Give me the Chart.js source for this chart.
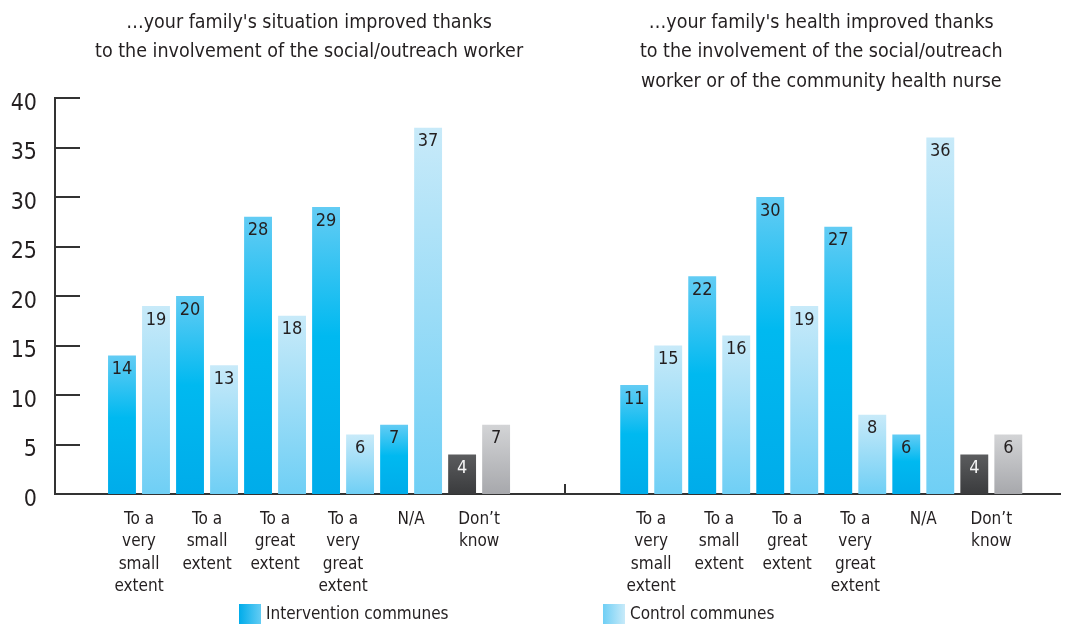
<!DOCTYPE html>
<html>
<head>
<meta charset="utf-8">
<script src="https://cdn.jsdelivr.net/npm/chart.js@4"></script>
<style>
  html, body { margin: 0; padding: 0; background: #fff; }
  #wrap { width: 1066px; height: 624px; }
</style>
</head>
<body>
<div id="wrap"><canvas id="surveyChart"></canvas></div>
<script>
// answer categories (same for both questions)
const tickLabels = [
  ['To a', 'very', 'small', 'extent'],
  ['To a', 'small', 'extent'],
  ['To a', 'great', 'extent'],
  ['To a', 'very', 'great', 'extent'],
  ['N/A'],
  ['Don\u2019t', 'know']
];

const situationTitle = [
  '\u2026your family\'s situation improved thanks',
  'to the involvement of the social/outreach worker'
];
const healthTitle = [
  '\u2026your family\'s health improved thanks',
  'to the involvement of the social/outreach',
  'worker or of the community health nurse'
];

const seriesNames = ['Intervention communes', 'Control communes'];

const situationIntervention = [14, 20, 28, 29, 7, 4];
const situationControl = [19, 13, 18, 6, 37, 7];
const healthIntervention = [11, 22, 30, 27, 6, 4];
const healthControl = [15, 16, 19, 8, 36, 6];

const yTicks = [0, 5, 10, 15, 20, 25, 30, 35, 40];

const FONT = '"Liberation Sans Narrow", "DejaVu Sans Condensed", sans-serif';
const INK = '#231f20';
const AXIS = '#333333';
const PANEL_SHIFT = 7.53;   // where the second question starts, in category widths
const N = tickLabels.length;

const blueStops = [[0, '#63ccf4'], [0.45, '#00b9f0'], [1, '#00acea']];
const paleStops = [[0, '#c8eaf9'], [1, '#6fcff5']];
const darkStops = [[0, '#5b5c5e'], [1, '#3a3b3d']];
const greyStops = [[0, '#d3d4d6'], [1, '#a7a8ac']];

function toPoints(first, second) {
  return first.map((v, i) => ({ x: i, y: v }))
    .concat(second.map((v, i) => ({ x: i + PANEL_SHIFT, y: v })));
}

const tickPositions = tickLabels.map((_, i) => i)
  .concat(tickLabels.map((_, i) => i + PANEL_SHIFT));

function labelFor(value) {
  const idx = tickPositions.findIndex(p => Math.abs(p - value) < 1e-6);
  return idx < 0 ? '' : tickLabels[idx % N];
}

function barFill(series) {
  return (ctx) => {
    const solid = series === 0 ? '#00b9f0' : '#9fdcf6';
    if (ctx.type !== 'data' || !ctx.raw) return solid;
    const y = ctx.chart.scales.y;
    if (!y) return solid;
    const top = y.getPixelForValue(ctx.raw.y);
    const base = y.getPixelForValue(0);
    if (!Number.isFinite(top) || !Number.isFinite(base) || top === base) return solid;
    const dontKnow = ctx.dataIndex % N === N - 1;
    const stops = dontKnow ? (series === 0 ? darkStops : greyStops)
                           : (series === 0 ? blueStops : paleStops);
    const g = ctx.chart.ctx.createLinearGradient(0, top, 0, base);
    stops.forEach(([o, c]) => g.addColorStop(o, c));
    return g;
  };
}

// numbers printed just inside the top of each bar
const valueLabels = {
  id: 'valueLabels',
  afterDatasetsDraw(chart) {
    const ctx = chart.ctx;
    ctx.save();
    ctx.font = '18px ' + FONT;
    ctx.textAlign = 'center';
    ctx.textBaseline = 'middle';
    chart.data.datasets.forEach((ds, di) => {
      chart.getDatasetMeta(di).data.forEach((bar, i) => {
        ctx.fillStyle = (di === 0 && i % N === N - 1) ? '#f4f4f4' : INK;
        ctx.fillText(String(ds.data[i].y), bar.x, bar.y + 14);
      });
    });
    ctx.restore();
  }
};

// inward y ticks, panel divider tick, question titles and legend
const decorations = {
  id: 'decorations',
  afterDraw(chart) {
    const ctx = chart.ctx;
    const x = chart.scales.x, y = chart.scales.y;
    const area = chart.chartArea;
    ctx.save();
    ctx.strokeStyle = AXIS;
    ctx.lineWidth = 2;
    ctx.beginPath();
    yTicks.forEach(t => {
      if (t === 0) return;
      const py = Math.round(y.getPixelForValue(t));
      ctx.moveTo(area.left, py);
      ctx.lineTo(area.left + 25, py);
    });
    const mid = (x.getPixelForValue(N - 1) + x.getPixelForValue(PANEL_SHIFT)) / 2;
    ctx.moveTo(Math.round(mid), area.bottom);
    ctx.lineTo(Math.round(mid), area.bottom - 10);
    ctx.stroke();

    ctx.fillStyle = INK;
    ctx.font = '19.5px ' + FONT;
    ctx.textAlign = 'center';
    ctx.textBaseline = 'middle';
    const c1 = (x.getPixelForValue(0) + x.getPixelForValue(N - 1)) / 2;
    const c2 = (x.getPixelForValue(PANEL_SHIFT) + x.getPixelForValue(PANEL_SHIFT + N - 1)) / 2;
    situationTitle.forEach((line, i) => ctx.fillText(line, c1, 22.5 + i * 29.5));
    healthTitle.forEach((line, i) => ctx.fillText(line, c2, 22.5 + i * 29.5));

    // legend
    const items = [239, 603];
    const swatches = [[[0, '#00acea'], [1, '#63ccf4']], [[0, '#6fcff5'], [1, '#c8eaf9']]];
    ctx.font = '17px ' + FONT;
    ctx.textAlign = 'left';
    items.forEach((lx, i) => {
      const g = ctx.createLinearGradient(lx, 0, lx + 22, 0);
      swatches[i].forEach(([o, c]) => g.addColorStop(o, c));
      ctx.fillStyle = g;
      ctx.fillRect(lx, 604, 22, 20);
      ctx.fillStyle = INK;
      ctx.fillText(chart.data.datasets[i].label, lx + 27, 615);
    });
    ctx.restore();
  }
};

new Chart(document.getElementById('surveyChart'), {
  type: 'bar',
  data: {
    datasets: [
      {
        label: seriesNames[0],
        data: toPoints(situationIntervention, healthIntervention),
        backgroundColor: barFill(0)
      },
      {
        label: seriesNames[1],
        data: toPoints(situationControl, healthControl),
        backgroundColor: barFill(1)
      }
    ]
  },
  options: {
    responsive: true,
    maintainAspectRatio: false,
    animation: false,
    categoryPercentage: 1,
    barPercentage: 0.82,
    layout: { padding: { top: 98, right: 6, left: 0, bottom: 0 } },
    plugins: {
      legend: { display: false },
      title: { display: false },
      tooltip: { enabled: false }
    },
    scales: {
      x: {
        type: 'linear',
        offset: false,
        min: -1.235,
        max: 13.54,
        afterBuildTicks: (scale) => { scale.ticks = tickPositions.map(v => ({ value: v })); },
        afterFit: (scale) => { scale.height = 130; },
        grid: { display: false, drawTicks: false },
        border: { display: true, color: AXIS, width: 2 },
        ticks: {
          autoSkip: false,
          maxRotation: 0,
          padding: 14,
          color: INK,
          font: { family: FONT, size: 17, lineHeight: 1.32 },
          callback: (value) => labelFor(value)
        }
      },
      y: {
        min: 0,
        max: 40,
        afterBuildTicks: (scale) => { scale.ticks = yTicks.map(v => ({ value: v })); },
        afterFit: (scale) => { scale.width = 55; },
        grid: { display: false, drawTicks: false },
        border: { display: true, color: AXIS, width: 2 },
        ticks: {
          padding: 18,
          labelOffset: 6,
          color: INK,
          font: { family: FONT, size: 23 }
        }
      }
    }
  },
  plugins: [valueLabels, decorations]
});
</script>
</body>
</html>
